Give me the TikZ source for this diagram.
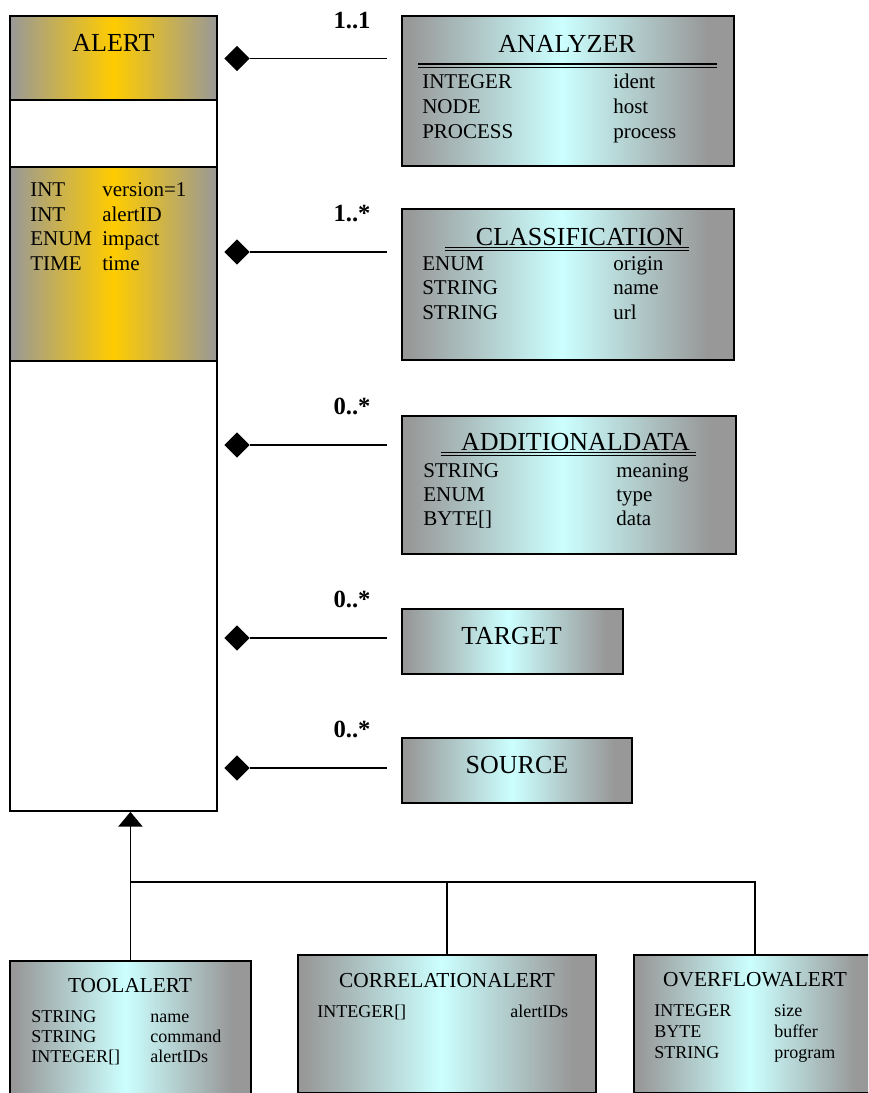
\documentclass[tikz,border=0pt]{standalone}
\usepackage{fontspec}
\setmainfont{Liberation Serif}
\usetikzlibrary{shapes.geometric,arrows.meta}
\definecolor{edgegray}{RGB}{152,152,152}
\definecolor{paleCyan}{RGB}{204,255,255}
\definecolor{alertGold}{RGB}{255,204,0}
\pgfdeclarehorizontalshading{cyanfade}{100bp}{color(0bp)=(edgegray); color(26bp)=(edgegray); color(49bp)=(paleCyan); color(71bp)=(edgegray); color(100bp)=(edgegray)}
\pgfdeclarehorizontalshading{goldfade}{100bp}{color(0bp)=(edgegray); color(25bp)=(edgegray); color(50bp)=(alertGold); color(75bp)=(edgegray); color(100bp)=(edgegray)}

\begin{document}
\begin{tikzpicture}[x=0.75pt,y=-0.75pt,every node/.style={inner sep=0pt},
            cbox/.style 2 args={draw,line width=1.4pt,shading=cyanfade,anchor=north west,
              minimum width=#1*0.75pt,minimum height=#2*0.75pt},
            abox/.style 2 args={cbox={#1}{#2},shading=goldfade},
            ctitle/.style={anchor=base,font=\fontsize{19.5}{22}\selectfont},
            crow/.style={anchor=base west,font=\fontsize{15.75}{18}\selectfont},
            stitle/.style={anchor=base,font=\fontsize{16}{18}\selectfont},
            srow/.style={anchor=base west,font=\fontsize{13.5}{15}\selectfont},
            mult/.style={anchor=base,font=\bfseries\fontsize{18.5}{20}\selectfont},
            diam/.style={diamond,fill=black,minimum size=19pt},
            assoc/.style={line width=1.3pt,shorten >=10.5pt},
            >={Triangle[width=18pt,length=11pt]}]
  \useasboundingbox (0,0) rectangle (868,1093);
  \clip (0,0) rectangle (868,1093);
  % ALERT
  \node[draw,line width=1.4pt,fill=white,anchor=north west,minimum width=207*0.75pt,minimum height=795*0.75pt] (alert) at (9,15) {};
  \node[abox={207}{84}] (alertHead) at (9,15) {};
  \node[abox={207}{194}] (alertAttr) at (9,166) {};
  \node[ctitle] (alertT) at (113.5,51) {ALERT};
  \foreach \ty/\nm [count=\i] in {INT/version=1,INT/alertID,ENUM/impact,TIME/time}{
    \node[crow] (alertA\i) at (30,{172.5+24.4*\i}) {\ty};
    \node[crow] (alertB\i) at (102,{172.5+24.4*\i}) {\nm};}
  % aggregated classes
  \node[cbox={332}{150}] (anl) at (401,15) {};
  \node[ctitle] (anlT) at (567,52) {ANALYZER};
  \foreach \ty/\nm [count=\i] in {INTEGER/ident,NODE/host,PROCESS/process}{
    \node[crow] (anlA\i) at (422,{63+25*\i}) {\ty};
    \node[crow] (anlB\i) at (613,{63+25*\i}) {\nm};}
  \node[cbox={332}{151}] (clsf) at (401,208) {};
  \node[ctitle] (clsfT) at (580,245) {CLASSIFICATION};
  \foreach \ty/\nm [count=\i] in {ENUM/origin,STRING/name,STRING/url}{
    \node[crow] (clsfA\i) at (422,{245.5+24.5*\i}) {\ty};
    \node[crow] (clsfB\i) at (613,{245.5+24.5*\i}) {\nm};}
  \node[cbox={334}{138}] (addl) at (401,415) {};
  \node[ctitle] (addlT) at (575.5,450) {ADDITIONALDATA};
  \foreach \ty/\nm [count=\i] in {STRING/meaning,ENUM/type,BYTE[]/data}{
    \node[crow] (addlA\i) at (423,{453+24*\i}) {\ty};
    \node[crow] (addlB\i) at (616,{453+24*\i}) {\nm};}
  \node[cbox={221}{65}] (tgt) at (401,608) {};
  \node[ctitle] (tgtT) at (511.5,644) {TARGET};
  \node[cbox={230}{65}] (src) at (401,737) {};
  \node[ctitle] (srcT) at (517,773) {SOURCE};
  % title rules
  \foreach \xa/\xb/\yy in {418/717/64,26/234/1000.5,314/579/994,650/862/994}{
    \draw[line width=1.5pt] (\xa,\yy) -- (\xb,\yy);
    \draw[line width=1.1pt] (\xa,\yy+3.5) -- (\xb,\yy+3.5);}
  \foreach \xa/\xb/\yy in {445/689/247.5,441/696/452.5}{
    \draw[line width=0.8pt] (\xa,\yy) -- (\xb,\yy) (\xa,\yy+3) -- (\xb,\yy+3);}
  % aggregations
  \foreach \yy/\cl/\m [count=\i] in {58.5/anl/1..1,252/clsf/1..*,445/addl/0..*,638/tgt/0..*,768/src/0..*}{
    \node[diam] (d\i) at (237,\yy) {};
    \draw[assoc] (d\i.east) -- (d\i -| \cl.west);
    \node[mult] (m\i) at (352,\yy-30.5) {\m};}
  % subclasses
  \node[cbox={241}{150}] (tool) at (9,960) {};
  \node[stitle] (toolT) at (130,992) {TOOLALERT};
  \foreach \ty/\nm [count=\i] in {STRING/name,STRING/command,INTEGER[]/alertIDs}{
    \node[srow] (toolA\i) at (31,{1002+20*\i}) {\ty};
    \node[srow] (toolB\i) at (150,{1002+20*\i}) {\nm};}
  \node[cbox={298}{138}] (corr) at (297,954) {};
  \node[stitle] (corrT) at (447,987) {CORRELATIONALERT};
  \node[srow] (corrA1) at (317,1017) {INTEGER[]};
  \node[srow] (corrB1) at (510,1017) {alertIDs};
  \node[cbox={242}{138}] (over) at (633,954) {};
  \node[stitle] (overT) at (755,986) {OVERFLOWALERT};
  \foreach \ty/\nm [count=\i] in {INTEGER/size,BYTE/buffer,STRING/program}{
    \node[srow] (overA\i) at (654,{995+21*\i}) {\ty};
    \node[srow] (overB\i) at (774,{995+21*\i}) {\nm};}
  % generalization
  \coordinate (split) at (130,882);
  \draw[line width=1.3pt,->] (tool.north) -- (tool.north |- alert.south);
  \draw[line width=1.3pt] (corr.north) |- (split);
  \draw[line width=1.3pt] (over.north) |- (split);
\end{tikzpicture}
\end{document}
